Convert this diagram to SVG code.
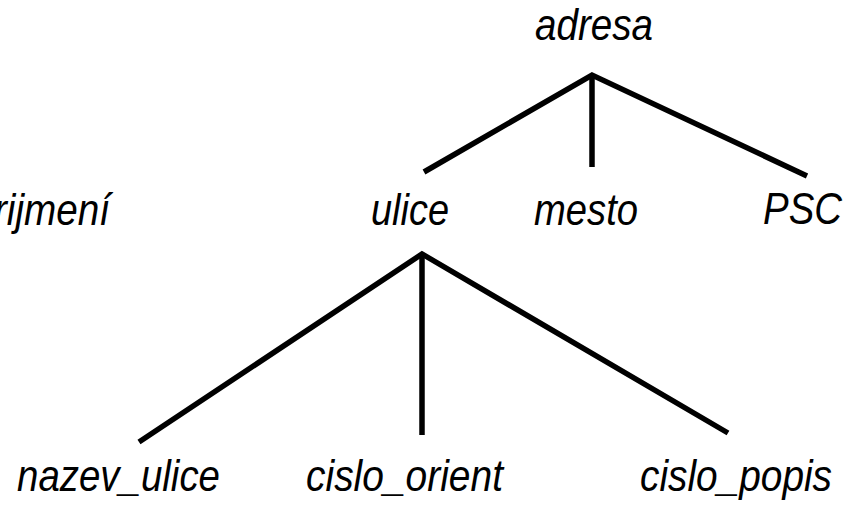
<svg xmlns="http://www.w3.org/2000/svg" width="857" height="505" viewBox="0 0 857 505">
  <style>
    .label { font-family: "Liberation Sans", Arial, sans-serif; font-style: italic; font-size: 45px; fill: #000; }
    .edge { stroke: #000; stroke-width: 5.5; fill: none; stroke-linecap: butt; }
  </style>
  <rect width="857" height="505" fill="#fff"/>

  <!-- tree edges -->
  <g id="connectors">
    <polyline class="edge" points="424,172 592,75 807,176"/>
    <line class="edge" x1="592" y1="75" x2="592" y2="167"/>
    <polyline class="edge" points="139,442 422,254 728,433"/>
    <line class="edge" x1="422" y1="254" x2="422" y2="435"/>
  </g>

  <g id="node-adresa"><text class="label" x="535" y="40" textLength="118" lengthAdjust="spacingAndGlyphs">adresa</text></g>
  <g id="node-prijmeni"><text class="label" x="-6" y="225" textLength="116" lengthAdjust="spacingAndGlyphs">rijmení</text></g>
  <g id="node-ulice"><text class="label" x="371" y="225" textLength="78" lengthAdjust="spacingAndGlyphs">ulice</text></g>
  <g id="node-mesto"><text class="label" x="534" y="225" textLength="104" lengthAdjust="spacingAndGlyphs">mesto</text></g>
  <g id="node-psc"><text class="label" x="763" y="224" textLength="79" lengthAdjust="spacingAndGlyphs">PSC</text></g>
  <g id="node-nazev_ulice"><text class="label" x="17" y="491" textLength="203" lengthAdjust="spacingAndGlyphs">nazev_ulice</text></g>
  <g id="node-cislo_orient"><text class="label" x="306" y="491" textLength="197" lengthAdjust="spacingAndGlyphs">cislo_orient</text></g>
  <g id="node-cislo_popis"><text class="label" x="640" y="491" textLength="192" lengthAdjust="spacingAndGlyphs">cislo_popis</text></g>
</svg>
